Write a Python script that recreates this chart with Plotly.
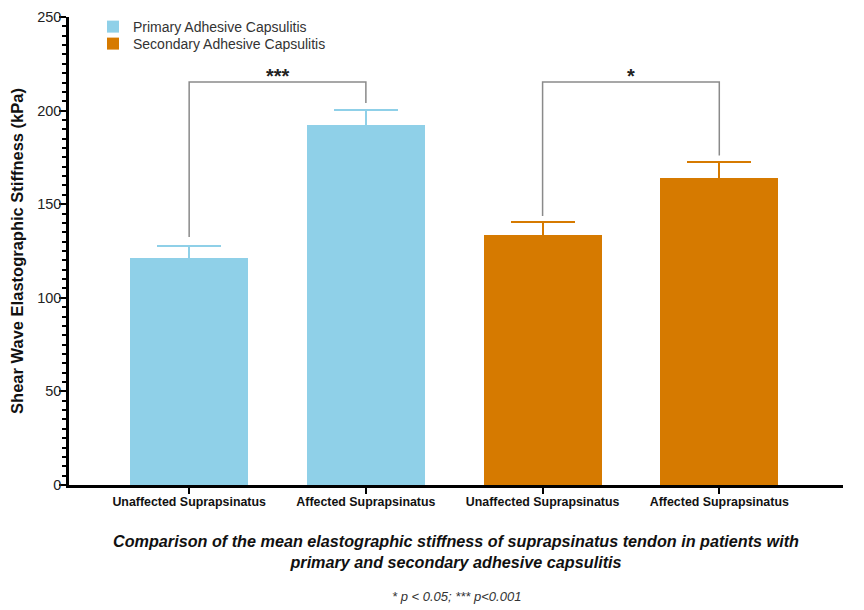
import plotly.graph_objects as go

categories = ["Unaffected Suprapsinatus", "Affected Suprapsinatus",
              "Unaffected Suprapsinatus", "Affected Suprapsinatus"]
primary_vals = [121.5, 192.5]
primary_err = [6.2, 8.0]
secondary_vals = [133.5, 163.8]
secondary_err = [7.0, 8.5]
series_names = ["Primary Adhesive Capsulitis", "Secondary Adhesive Capsulitis"]
# brackets: (left x index, right x index, top value, left leg bottom, right leg bottom, label)
brackets = [(0, 1, 215.3, 132.5, 204.0, "***"),
            (2, 3, 215.3, 143.7, 176.0, "*")]

BLUE = "#8FD0E8"
ORANGE = "#D67A00"
NARROW = "Liberation Sans Narrow, Arial Narrow, Liberation Sans, Arial"
SANS = "Liberation Sans, Arial, Helvetica"

fig = go.Figure()
fig.add_trace(go.Bar(
    x=[0, 1], y=primary_vals, name=series_names[0], marker_color=BLUE,
    marker_line_width=0, width=0.667, legend="legend",
    error_y=dict(type="data", symmetric=True, array=primary_err,
                 color=BLUE, thickness=2, width=32)))
fig.add_trace(go.Bar(
    x=[2, 3], y=secondary_vals, name=series_names[1], marker_color=ORANGE,
    marker_line_width=0, width=0.667, legend="legend2",
    error_y=dict(type="data", symmetric=True, array=secondary_err,
                 color=ORANGE, thickness=2, width=32)))

for (xl, xr, top, bl, br, lab) in brackets:
    fig.add_shape(type="path",
                  path=f"M {xl},{bl} L {xl},{top} L {xr},{top} L {xr},{br}",
                  line=dict(color="#8a8a8a", width=1.5), xref="x", yref="y")
    fig.add_annotation(x=(xl + xr) / 2, y=top, text=f"<b>{lab}</b>", showarrow=False,
                       yanchor="bottom", yshift=-7,
                       font=dict(family=SANS, size=20, color="#222"))

fig.add_annotation(xref="paper", yref="paper", x=0.5, y=-0.142, xanchor="center",
                   yanchor="middle", showarrow=False, align="center",
                   text="<b><i>Comparison of the mean elastographic stiffness of suprapsinatus tendon in patients with<br>primary and secondary adhesive capsulitis</i></b>",
                   font=dict(family=NARROW, size=16.2, color="#111"))
fig.add_annotation(xref="paper", yref="paper", x=0.5, y=-0.239, xanchor="center",
                   yanchor="middle", showarrow=False,
                   text="<i>* p &lt; 0.05; *** p&lt;0.001</i>",
                   font=dict(family=NARROW, size=13, color="#333"))

legend_common = dict(xanchor="left", yanchor="middle", bgcolor="rgba(0,0,0,0)",
                     font=dict(family=SANS, size=14, color="#333"), itemwidth=30)

fig.update_layout(
    width=856, height=602,
    margin=dict(l=61, r=21, t=9, b=125, autoexpand=False),
    paper_bgcolor="white", plot_bgcolor="white",
    barmode="overlay", bargap=0,
    showlegend=True,
    legend=dict(x=0.031, y=0.9786, **legend_common),
    legend2=dict(x=0.031, y=0.9423, **legend_common),
    xaxis=dict(range=[-0.68, 3.70], tickmode="array", tickvals=[0, 1, 2, 3],
               ticktext=[f"<b>{c}</b>" for c in categories],
               showline=True, linecolor="black", linewidth=2.5,
               ticks="outside", ticklen=6, tickwidth=2, tickcolor="black",
               showgrid=False, zeroline=False, automargin=False,
               ticklabelstandoff=-3,
               tickfont=dict(family=NARROW, size=12.4, color="#111")),
    yaxis=dict(range=[0, 250], tickmode="linear", tick0=0, dtick=50,
               showline=True, linecolor="black", linewidth=2.5,
               ticks="outside", ticklen=7, tickwidth=2, tickcolor="black",
               minor=dict(tickmode="linear", tick0=0, dtick=5, ticks="outside",
                          ticklen=4, tickwidth=1.5, tickcolor="black", showgrid=False),
               showgrid=False, zeroline=False, automargin=False,
               ticklabelstandoff=-5,
               tickfont=dict(family=SANS, size=14.5, color="#222"),
               title=dict(text="<b>Shear Wave Elastographic Stiffness (kPa)</b>",
                          font=dict(family=SANS, size=16.5, color="#111"), standoff=12)),
)

fig.write_html("out.html")
